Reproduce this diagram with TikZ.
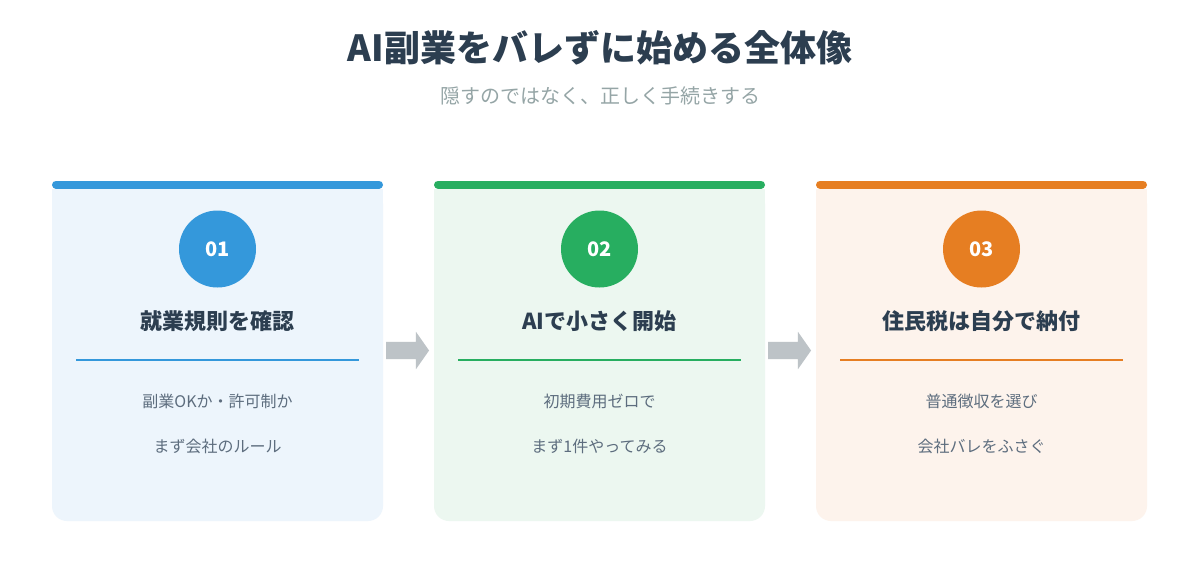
\documentclass[tikz,border=0pt]{standalone}
\usepackage{fontspec}
\setmainfont{Noto Sans CJK JP}
\usepackage{tikz}
\usetikzlibrary{positioning, shapes.arrows, calc}
\usepackage{xcolor}
\definecolor{Ink}{HTML}{2C3E50}
\definecolor{Muted}{HTML}{95A5A6}
\definecolor{BodyText}{HTML}{5D6D7E}
\definecolor{ArrowGray}{HTML}{BDC3C7}
\definecolor{StepBlue}{HTML}{3498DB}
\definecolor{StepGreen}{HTML}{27AE60}
\definecolor{StepOrange}{HTML}{E67E22}
\definecolor{BlueBg}{HTML}{EDF5FC}
\definecolor{GreenBg}{HTML}{ECF7F0}
\definecolor{OrangeBg}{HTML}{FDF3EC}

\tikzset{
  card/.style={minimum width=331pt, minimum height=332pt, rounded corners=15pt, inner sep=0pt},
  topbar/.style={line width=8pt, line cap=round},
  badge/.style={circle, minimum size=77pt, inner sep=0pt,
                font=\fontsize{20}{20}\selectfont\bfseries\color{white}},
  heading/.style={font=\fontsize{22}{22}\selectfont\bfseries\color{Ink}},
  divider/.style={line width=1.6pt},
  note/.style={font=\fontsize{16}{16}\selectfont\color{BodyText}},
  flow/.style={single arrow, fill=ArrowGray, inner sep=8.5pt, minimum height=43pt,
               single arrow head extend=10pt, single arrow tip angle=110}
}

\begin{document}
\begin{tikzpicture}[x=1pt, y=-1pt]
  \fill[white] (0,0) rectangle (1200,560);
  \useasboundingbox (0,0) rectangle (1200,560);

  % title
  \node[font=\fontsize{36}{36}\selectfont\bfseries\color{Ink}] (title) at (600,48)
    {AI副業をバレずに始める全体像};
  \node[font=\fontsize{20}{20}\selectfont\color{Muted}] (subtitle) at (600,96)
    {隠すのではなく、正しく手続きする};

  % step 1
  \node[card, fill=BlueBg] (card1) at (217.5,355) {};
  \fill[BlueBg] (card1.north west) rectangle (card1.east);
  \draw[topbar, StepBlue] (56,184.5) -- (379,184.5);
  \node[badge, fill=StepBlue] (badge1) at (217.5,249) {01};
  \node[heading] (head1) at (217.5,321) {就業規則を確認};
  \draw[divider, StepBlue] (76,360) -- (359,360);
  \node[note] (note1a) at (217.5,401) {副業OKか・許可制か};
  \node[note] (note1b) at (217.5,446) {まず会社のルール};

  % step 2
  \node[card, fill=GreenBg] (card2) at (599.5,355) {};
  \fill[GreenBg] (card2.north west) rectangle (card2.east);
  \draw[topbar, StepGreen] (438,184.5) -- (761,184.5);
  \node[badge, fill=StepGreen] (badge2) at (599.5,249) {02};
  \node[heading] (head2) at (599.5,321) {AIで小さく開始};
  \draw[divider, StepGreen] (458,360) -- (741,360);
  \node[note] (note2a) at (599.5,401) {初期費用ゼロで};
  \node[note] (note2b) at (599.5,446) {まず1件やってみる};

  % step 3
  \node[card, fill=OrangeBg] (card3) at (981.5,355) {};
  \fill[OrangeBg] (card3.north west) rectangle (card3.east);
  \draw[topbar, StepOrange] (820,184.5) -- (1143,184.5);
  \node[badge, fill=StepOrange] (badge3) at (981.5,249) {03};
  \node[heading] (head3) at (981.5,321) {住民税は自分で納付};
  \draw[divider, StepOrange] (840,360) -- (1123,360);
  \node[note] (note3a) at (981.5,401) {普通徴収を選び};
  \node[note] (note3b) at (981.5,446) {会社バレをふさぐ};

  % arrows between steps
  \node[flow] (flow1) at (404.5,350.5) {};
  \node[flow] (flow2) at (786.5,350.5) {};
\end{tikzpicture}
\end{document}
